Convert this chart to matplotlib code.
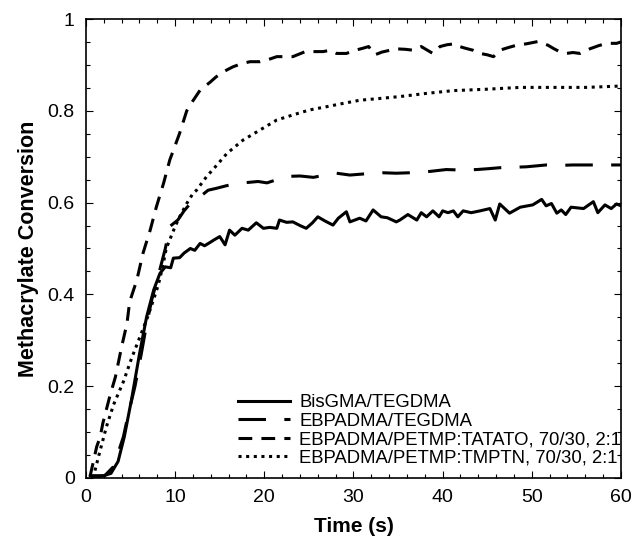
import numpy as np
import matplotlib
matplotlib.use('Agg')
import matplotlib.pyplot as plt
from matplotlib.ticker import MultipleLocator

plt.rcParams['font.family'] = ['Liberation Sans', 'DejaVu Sans']

# BisGMA/TEGDMA (solid)
t_bis = [0.5, 2.0, 2.8, 3.6, 4.3, 5.1, 6.0, 6.8, 7.6, 8.3,
         8.9, 9.5, 9.8, 10.5, 11.0, 11.7, 12.2, 12.8, 13.3, 13.9,
         14.3, 15.0, 15.6, 16.1, 16.7, 17.5, 18.2, 19.1, 19.9, 20.6,
         21.4, 21.7, 22.5, 23.2, 24.0, 24.7, 25.4, 26.0, 26.8, 27.7,
         28.3, 29.2, 29.6, 30.7, 31.4, 32.2, 33.1, 33.8, 34.8, 35.2,
         36.1, 37.1, 37.6, 38.2, 38.9, 39.6, 40.0, 40.6, 41.2, 41.7,
         42.3, 43.2, 44.2, 45.3, 45.9, 46.4, 47.5, 48.7, 50.1, 51.1,
         51.6, 52.2, 52.8, 53.3, 53.8, 54.4, 55.8, 56.9, 57.4, 58.2,
         58.9, 59.5, 60.0]
c_bis = [0.005, 0.005, 0.01, 0.036, 0.09, 0.17, 0.27, 0.351, 0.41, 0.446,
         0.46, 0.458, 0.479, 0.48, 0.49, 0.50, 0.496, 0.511, 0.506, 0.513,
         0.518, 0.526, 0.508, 0.54, 0.529, 0.544, 0.54, 0.556, 0.544, 0.546,
         0.544, 0.562, 0.557, 0.558, 0.55, 0.544, 0.556, 0.569, 0.56, 0.551,
         0.566, 0.58, 0.558, 0.566, 0.56, 0.584, 0.569, 0.567, 0.558, 0.562,
         0.574, 0.562, 0.578, 0.569, 0.582, 0.569, 0.582, 0.578, 0.582, 0.569,
         0.582, 0.578, 0.582, 0.587, 0.562, 0.597, 0.577, 0.590, 0.595, 0.607,
         0.593, 0.598, 0.577, 0.584, 0.574, 0.590, 0.587, 0.602, 0.578, 0.595,
         0.587, 0.597, 0.593]

# EBPADMA/TEGDMA (long dash)
t_teg = [0.5, 1.5, 2.1, 3.1, 4.2, 4.7, 5.5, 6.2, 6.8, 7.4,
         8.1, 8.9, 9.4, 10.3, 11.0, 11.7, 12.8, 13.7, 14.6, 15.8,
         17.1, 18.2, 19.3, 20.3, 21.4, 22.5, 24.0, 25.5, 26.8, 28.1,
         29.6, 31.5, 33.3, 34.8, 36.3, 37.5, 38.6, 40.4, 42.0, 43.8,
         45.2, 46.4, 48.0, 49.4, 50.5, 51.6, 53.0, 54.6, 56.0, 57.6,
         58.8, 60.0]
c_teg = [0.0, 0.003, 0.005, 0.025, 0.09, 0.135, 0.2, 0.27, 0.335, 0.39,
         0.44, 0.50, 0.548, 0.562, 0.582, 0.598, 0.613, 0.627, 0.631, 0.637,
         0.642, 0.644, 0.646, 0.643, 0.650, 0.657, 0.658, 0.655, 0.660, 0.664,
         0.660, 0.663, 0.665, 0.664, 0.665, 0.666, 0.668, 0.672, 0.671, 0.672,
         0.674, 0.676, 0.677, 0.678, 0.680, 0.682, 0.681, 0.682, 0.682, 0.682,
         0.682, 0.682]

# EBPADMA/PETMP:TATATO, 70/30, 2:1 (medium dash)
t_tat = [0.45, 0.8, 1.2, 1.6, 1.9, 2.7, 3.3, 4.0, 4.6, 4.9,
         5.7, 6.4, 7.2, 7.9, 8.7, 9.4, 10.2, 10.5, 11.3, 12.0,
         12.8, 13.9, 14.6, 15.5, 16.5, 17.5, 18.4, 19.5, 20.5, 21.4,
         22.3, 23.2, 24.6, 25.5, 26.6, 27.4, 28.1, 29.2, 30.2, 31.0,
         31.7, 32.4, 33.2, 34.1, 34.8, 35.8, 36.7, 37.6, 38.2, 38.9,
         39.7, 40.5, 41.4, 41.9, 42.6, 43.4, 44.2, 45.0, 45.7, 46.4,
         47.4, 48.3, 49.4, 50.7, 51.8, 52.5, 53.1, 53.9, 54.6, 55.4,
         56.5, 57.5, 58.4, 59.5, 60.0]
c_tat = [0.003, 0.033, 0.068, 0.09, 0.12, 0.18, 0.22, 0.286, 0.337, 0.384,
         0.431, 0.49, 0.54, 0.591, 0.642, 0.693, 0.735, 0.751, 0.8, 0.822,
         0.845, 0.862, 0.874, 0.886, 0.896, 0.903, 0.907, 0.907, 0.912, 0.918,
         0.918, 0.918, 0.929, 0.929, 0.929, 0.932, 0.925, 0.925, 0.932, 0.936,
         0.94, 0.922, 0.928, 0.932, 0.935, 0.934, 0.932, 0.94, 0.933, 0.925,
         0.94, 0.944, 0.946, 0.94, 0.936, 0.932, 0.925, 0.922, 0.918, 0.932,
         0.938, 0.943, 0.946, 0.951, 0.943, 0.935, 0.929, 0.925, 0.927, 0.925,
         0.935, 0.942, 0.947, 0.947, 0.95]

# EBPADMA/PETMP:TMPTN, 70/30, 2:1 (dotted)
t_tmp = [0.8, 1.4, 2.3, 3.1, 4.2, 5.1, 5.9, 6.9, 7.6, 8.1,
         8.6, 9.0, 10.0, 10.5, 11.3, 12.0, 12.4, 13.5, 14.6, 15.8,
         17.6, 19.5, 21.4, 23.2, 25.1, 27.0, 28.8, 30.7, 33.0, 35.2,
         38.2, 41.2, 44.9, 48.7, 52.4, 56.1, 60.0]
c_tmp = [0.0, 0.046, 0.112, 0.16, 0.21, 0.26, 0.3, 0.35, 0.39, 0.42,
         0.46, 0.5, 0.548, 0.569, 0.598, 0.62, 0.627, 0.656, 0.68, 0.707,
         0.736, 0.758, 0.78, 0.791, 0.802, 0.809, 0.816, 0.823, 0.827, 0.831,
         0.838, 0.844, 0.847, 0.851, 0.851, 0.851, 0.854]

labels = ['BisGMA/TEGDMA', 'EBPADMA/TEGDMA',
          'EBPADMA/PETMP:TATATO, 70/30, 2:1', 'EBPADMA/PETMP:TMPTN, 70/30, 2:1']
y_ticks = [0, 0.2, 0.4, 0.6, 0.8, 1.0]
y_ticklabels = ['0', '0.2', '0.4', '0.6', '0.8', '1']
x_ticks = [0, 10, 20, 30, 40, 50, 60]

fig = plt.figure(figsize=(6.34, 5.37), dpi=100)
ax = fig.add_axes([0.1356, 0.1099, 0.8439, 0.8547])

lw = 2.2
ax.plot(t_bis, c_bis, color='black', lw=lw, ls='-', label=labels[0])
ax.plot(t_teg, c_teg, color='black', lw=lw, ls=(0, (9, 6)), label=labels[1])
ax.plot(t_tat, c_tat, color='black', lw=lw, ls=(0, (4.5, 3)), label=labels[2])
ax.plot(t_tmp, c_tmp, color='black', lw=lw, ls=(0, (1, 1.5)), label=labels[3])

ax.set_xlim(0, 60)
ax.set_ylim(0, 1)
ax.set_xticks(x_ticks)
ax.set_yticks(y_ticks)
ax.set_yticklabels(y_ticklabels)
ax.xaxis.set_minor_locator(MultipleLocator(2))
ax.yaxis.set_minor_locator(MultipleLocator(0.05))
ax.tick_params(which='both', direction='in', top=True, right=True, width=0.8,
               labelsize=14)
ax.tick_params(which='major', length=5, pad=8)
ax.tick_params(which='minor', length=3)
for s in ax.spines.values():
    s.set_linewidth(1.2)

ax.set_xlabel('Time (s)', fontsize=15, fontweight='bold', labelpad=8)
ax.set_ylabel('Methacrylate Conversion', fontsize=15.5, fontweight='bold', labelpad=6)

ax.legend(loc='lower right', bbox_to_anchor=(1.0, 0.025), frameon=False,
          fontsize=13.3, handlelength=2.8, handletextpad=0.5, labelspacing=0.08,
          borderaxespad=0, borderpad=0)

fig.savefig('out.png', dpi=100)
